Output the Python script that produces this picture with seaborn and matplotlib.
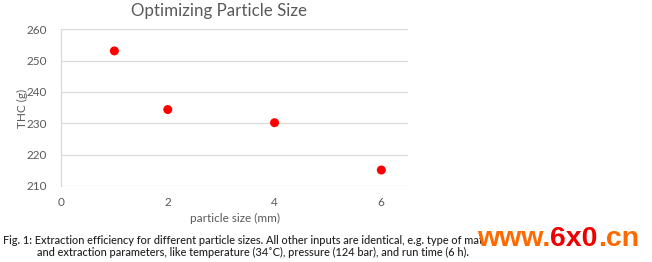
import matplotlib
matplotlib.use("Agg")
import matplotlib.pyplot as plt
import seaborn as sns
import pandas as pd

particle_size = [1, 2, 4, 6]
thc = [253.1, 234.4, 230.2, 215.1]
x_ticks = [0, 2, 4, 6]
y_ticks = [210, 220, 230, 240, 250, 260]

title = "Optimizing Particle Size"
x_label = "particle size (mm)"
y_label = "THC (g)"
caption1 = "Fig. 1: Extraction efficiency for different particle sizes. All other inputs are identical, e.g. type of mat"
caption2 = "and extraction parameters, like temperature (34˚C), pressure (124 bar), and run time (6 h)."
watermark_parts = ["www.", "6x0", ".cn"]
watermark_colors = ["#ff6a00", "#f00000", "#ff6a00"]

sns.set_theme(style="white")
plt.rcParams['font.family'] = ['Lato', 'DejaVu Sans']

df = pd.DataFrame({"size": particle_size, "thc": thc})

W, H = 652, 262
fig = plt.figure(figsize=(W/100, H/100), dpi=100)
ax = fig.add_axes([61/W, 1-186/H, (408-61)/W, (186-29.3)/H])

sns.scatterplot(data=df, x="size", y="thc", ax=ax, color="#ff0000", s=42,
                edgecolor="none", zorder=3)

ax.set_xlim(0, 6.5)
ax.set_ylim(210, 260)
ax.set_xticks(x_ticks)
ax.set_yticks(y_ticks)
ax.yaxis.grid(True, color="#d9d9d9", linewidth=0.9)
ax.xaxis.grid(False)
for s in ["top", "right", "bottom"]:
    ax.spines[s].set_visible(False)
ax.spines["left"].set_color("#d9d9d9")
ax.spines["left"].set_linewidth(0.9)
ax.tick_params(axis="both", length=0, labelsize=8.5, labelcolor="#595959")
ax.tick_params(axis="x", pad=8)
ax.tick_params(axis="y", pad=10)
ax.set_xlabel("")
ax.set_ylabel("")

fig.text(219/W, 1-11/H, title, ha="center", va="center", fontsize=12.2, color="#595959")
fig.text(22/W, 1-108/H, y_label, ha="center", va="center", rotation=90, fontsize=8.5, color="#595959")
fig.text(235/W, 1-218/H, x_label, ha="center", va="center", fontsize=8.5, color="#595959")
fig.text(3/W, 1-240/H, caption1, ha="left", va="center", fontsize=7.9, color="#222222", fontweight="medium")
fig.text(37/W, 1-252.5/H, caption2, ha="left", va="center", fontsize=7.9, color="#222222", fontweight="medium")

renderer = fig.canvas.get_renderer()
xpos = 477
for part, col in zip(watermark_parts, watermark_colors):
    t = fig.text(xpos/W, 1-239/H, part, ha="left", va="center", fontsize=20.5,
                 fontweight="bold", color=col, family=["Liberation Sans"])
    bb = t.get_window_extent(renderer=renderer)
    xpos += bb.width

fig.savefig("out.png", dpi=100)
